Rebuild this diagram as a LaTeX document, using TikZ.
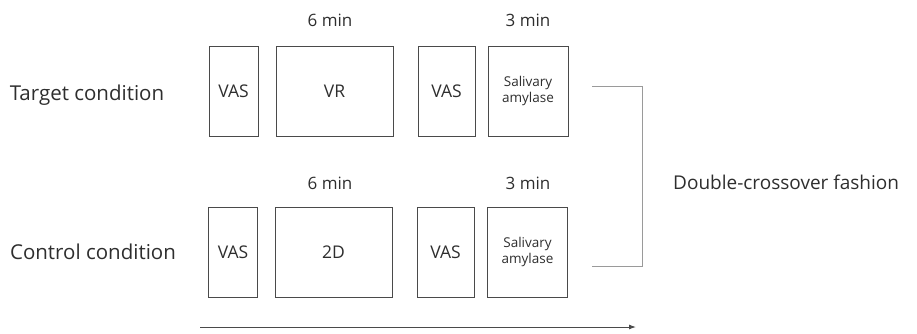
\documentclass[tikz,border=0pt]{standalone}
\usepackage{fontspec}
\setmainfont{Open Sans}
\usetikzlibrary{arrows.meta}
\definecolor{txt}{HTML}{2E2E2E}
\definecolor{edge}{HTML}{4A4A4A}
\definecolor{brk}{HTML}{9A9A9A}
\begin{document}
\begin{tikzpicture}[x=1pt,y=-1pt,
  box/.style={draw=edge,line width=1pt,inner sep=0pt,text=txt,font=\fontsize{17.5}{20}\selectfont},
  lbl/.style={text=txt,inner sep=0pt,font=\fontsize{20.5}{24}\selectfont},
  tim/.style={text=txt,inner sep=0pt,font=\fontsize{17}{20}\selectfont},
  small/.style={box,font=\fontsize{13.5}{16}\selectfont,align=center}]
\useasboundingbox (0,0) rectangle (917,333);
% top row
\node[lbl] (tc) at (87,95) {Target condition};
\node[box,minimum width=49pt,minimum height=90pt] (v1) at (233.5,91) {VAS};
\node[box,minimum width=117pt,minimum height=90pt] (vr) at (334.5,91) {VR};
\node[box,minimum width=57pt,minimum height=90pt] (v2) at (446.5,91) {VAS};
\node[small,minimum width=80pt,minimum height=90pt] (sa1) at (528,91) {Salivary\\amylase};
\node[tim] (t6a) at (330,20) {6 min};
\node[tim] (t3a) at (528,20) {3 min};
% bottom row
\node[lbl] (cc) at (93,252) {Control condition};
\node[box,minimum width=49pt,minimum height=90pt] (w1) at (233,252) {VAS};
\node[box,minimum width=117pt,minimum height=90pt] (d2) at (333.5,252) {2D};
\node[box,minimum width=57pt,minimum height=90pt] (w2) at (445.5,252) {VAS};
\node[small,minimum width=80pt,minimum height=90pt] (sa2) at (527.5,252) {Salivary\\amylase};
\node[tim] (t6b) at (330,183) {6 min};
\node[tim] (t3b) at (528,183) {3 min};
% bracket
\coordinate (b1) at (592,86);
\coordinate (b2) at (642,86);
\coordinate (b3) at (642,266);
\coordinate (b4) at (592,266);
\draw[brk,line width=1pt] (b1) -- (b2) -- (b3) -- (b4);
\node[lbl,anchor=west,font=\fontsize{19}{22}\selectfont] (dc) at (673,182) {Double-crossover fashion};
% time arrow
\coordinate (a1) at (200,327);
\coordinate (a2) at (636,327);
\draw[edge,line width=1pt,-{Latex[length=7pt,width=5pt]}] (a1) -- (a2);
\end{tikzpicture}
\end{document}
